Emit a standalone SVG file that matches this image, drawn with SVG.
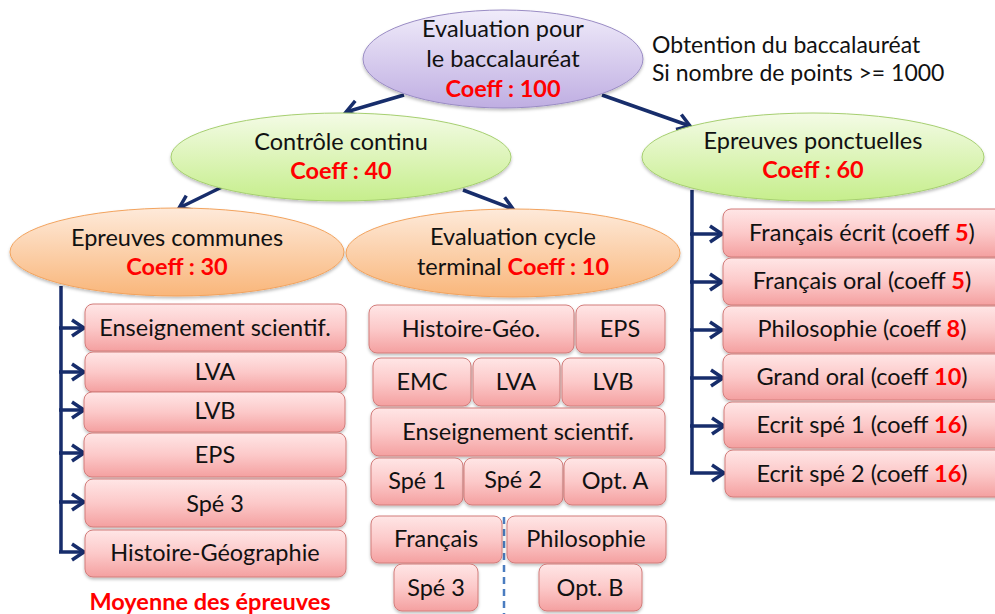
<svg xmlns="http://www.w3.org/2000/svg" width="995" height="614" viewBox="0 0 995 614">
<defs>
<linearGradient id="gPurple" x1="0" y1="0" x2="0" y2="1"><stop offset="0" stop-color="#f0ecfa"/><stop offset="1" stop-color="#bfaee2"/></linearGradient>
<linearGradient id="gGreen" x1="0" y1="0" x2="0" y2="1"><stop offset="0" stop-color="#f4fbe6"/><stop offset="1" stop-color="#c6ee8c"/></linearGradient>
<linearGradient id="gOrange" x1="0" y1="0" x2="0" y2="1"><stop offset="0" stop-color="#feeada"/><stop offset="1" stop-color="#f9b67a"/></linearGradient>
<linearGradient id="gPink" x1="0" y1="0" x2="0" y2="1"><stop offset="0" stop-color="#ffe6e6"/><stop offset="0.5" stop-color="#fcc9c9"/><stop offset="1" stop-color="#f4a0a0"/></linearGradient>
<filter id="sh" x="-10%" y="-10%" width="120%" height="130%"><feDropShadow dx="0" dy="2" stdDeviation="1.5" flood-color="#000" flood-opacity="0.25"/></filter>
<marker id="ah" markerUnits="userSpaceOnUse" markerWidth="20" markerHeight="20" viewBox="0 0 20 20" refX="16" refY="10" orient="auto"><path d="M4,2 L16,10 L4,18" fill="none" stroke="#172d6b" stroke-width="3.5" stroke-linejoin="miter"/></marker>
</defs>
<style>
text{font-family:Lato,"Open Sans","Liberation Sans",sans-serif;font-size:23.5px;fill:#111;text-anchor:middle}
.r{fill:#ff0000;font-weight:bold}
.note{text-anchor:start;font-size:23px}
.box{fill:url(#gPink);stroke:#d27c7a;stroke-width:1;filter:url(#sh)}
.ep{stroke-width:1;filter:url(#sh)}
.ln{fill:none;stroke:#172d6b;stroke-width:3.5}
</style>

<g id="connectors">
<line class="ln" x1="404" y1="95" x2="346" y2="112" marker-end="url(#ah)"/>
<line class="ln" x1="602" y1="95" x2="690" y2="126" marker-end="url(#ah)"/>
<line class="ln" x1="222" y1="187" x2="179" y2="208" marker-end="url(#ah)"/>
<line class="ln" x1="463" y1="190" x2="513" y2="209" marker-end="url(#ah)"/>
<polyline class="ln" points="61,286 61,552"/>
<line class="ln" x1="59" y1="328" x2="84" y2="328" marker-end="url(#ah)"/>
<line class="ln" x1="59" y1="372" x2="84" y2="372" marker-end="url(#ah)"/>
<line class="ln" x1="59" y1="410" x2="84" y2="410" marker-end="url(#ah)"/>
<line class="ln" x1="59" y1="453" x2="84" y2="453" marker-end="url(#ah)"/>
<line class="ln" x1="59" y1="502" x2="84" y2="502" marker-end="url(#ah)"/>
<line class="ln" x1="59" y1="552" x2="84" y2="552" marker-end="url(#ah)"/>
<polyline class="ln" points="692,190 692,473"/>
<line class="ln" x1="690" y1="234" x2="722" y2="234" marker-end="url(#ah)"/>
<line class="ln" x1="690" y1="282" x2="722" y2="282" marker-end="url(#ah)"/>
<line class="ln" x1="690" y1="330" x2="722" y2="330" marker-end="url(#ah)"/>
<line class="ln" x1="690" y1="378" x2="723" y2="378" marker-end="url(#ah)"/>
<line class="ln" x1="690" y1="426" x2="724" y2="426" marker-end="url(#ah)"/>
<line class="ln" x1="690" y1="473" x2="724" y2="473" marker-end="url(#ah)"/>
<line x1="504" y1="517" x2="504" y2="614" stroke="#4a7cc0" stroke-width="2.5" stroke-dasharray="7,5"/>
</g>

<g id="bac">
<ellipse class="ep" cx="503" cy="59" rx="140" ry="49" fill="url(#gPurple)" stroke="#9a8cc4"/>
<text x="503" y="37">Evaluation pour</text>
<text x="503" y="67">le baccalauréat</text>
<text x="503" y="97" class="r">Coeff : 100</text>
</g>
<g id="note">
<text x="652" y="53" class="note">Obtention du baccalauréat</text>
<text x="652" y="81" class="note">Si nombre de points &gt;= 1000</text>
</g>

<g id="controle">
<ellipse class="ep" cx="341" cy="157" rx="170" ry="44" fill="url(#gGreen)" stroke="#a6cf70"/>
<text x="341" y="150">Contrôle continu</text>
<text x="341" y="179" class="r">Coeff : 40</text>
</g>
<g id="ponctuelles">
<ellipse class="ep" cx="813" cy="157" rx="171" ry="44" fill="url(#gGreen)" stroke="#a6cf70"/>
<text x="813" y="149">Epreuves ponctuelles</text>
<text x="813" y="178" class="r">Coeff : 60</text>
</g>
<g id="communes">
<ellipse class="ep" cx="177" cy="252" rx="167" ry="44" fill="url(#gOrange)" stroke="#f2a35e"/>
<text x="177" y="246">Epreuves communes</text>
<text x="177" y="275" class="r">Coeff : 30</text>
</g>
<g id="cycle">
<ellipse class="ep" cx="513" cy="253" rx="167" ry="44" fill="url(#gOrange)" stroke="#f2a35e"/>
<text x="513" y="245">Evaluation cycle</text>
<text x="513" y="275">terminal <tspan class="r">Coeff : 10</tspan></text>
</g>

<g id="left-boxes">
<g id="l1"><rect class="box" x="85" y="304" width="261" height="47" rx="8"/><text x="215" y="336">Enseignement scientif.</text></g>
<g id="l2"><rect class="box" x="85" y="352" width="261" height="40" rx="8"/><text x="215" y="380">LVA</text></g>
<g id="l3"><rect class="box" x="84" y="392" width="261" height="40" rx="8"/><text x="215" y="419">LVB</text></g>
<g id="l4"><rect class="box" x="84" y="433" width="262" height="44" rx="8"/><text x="215" y="463">EPS</text></g>
<g id="l5"><rect class="box" x="85" y="479" width="261" height="48" rx="8"/><text x="215" y="512">Spé 3</text></g>
<g id="l6"><rect class="box" x="85" y="530" width="261" height="47" rx="8"/><text x="215" y="561">Histoire-Géographie</text></g>
<text x="210" y="610" class="r">Moyenne des épreuves</text>
</g>

<g id="mid-boxes">
<g id="m1"><rect class="box" x="369" y="305" width="205" height="48" rx="8"/><text x="471" y="337">Histoire-Géo.</text></g>
<g id="m2"><rect class="box" x="576" y="305" width="89" height="48" rx="8"/><text x="620" y="337">EPS</text></g>
<g id="m3"><rect class="box" x="373" y="358" width="98" height="48" rx="8"/><text x="422" y="390">EMC</text></g>
<g id="m4"><rect class="box" x="473" y="358" width="87" height="48" rx="8"/><text x="516" y="390">LVA</text></g>
<g id="m5"><rect class="box" x="562" y="358" width="102" height="48" rx="8"/><text x="613" y="390">LVB</text></g>
<g id="m6"><rect class="box" x="371" y="408" width="294" height="48" rx="8"/><text x="518" y="440">Enseignement scientif.</text></g>
<g id="m7"><rect class="box" x="371" y="458" width="92" height="47" rx="8"/><text x="417" y="489">Spé 1</text></g>
<g id="m8"><rect class="box" x="464" y="458" width="99" height="47" rx="8"/><text x="513" y="488">Spé 2</text></g>
<g id="m9"><rect class="box" x="564" y="458" width="102" height="47" rx="8"/><text x="615" y="489">Opt. A</text></g>
<g id="m10"><rect class="box" x="371" y="516" width="131" height="47" rx="8"/><text x="436" y="547">Français</text></g>
<g id="m11"><rect class="box" x="507" y="516" width="159" height="47" rx="8"/><text x="586" y="547">Philosophie</text></g>
<g id="m12"><rect class="box" x="394" y="564" width="84" height="47" rx="8"/><text x="436" y="596">Spé 3</text></g>
<g id="m13"><rect class="box" x="539" y="564" width="103" height="47" rx="8"/><text x="590" y="596">Opt. B</text></g>
</g>

<g id="right-boxes">
<g id="r1"><rect class="box" x="723" y="209" width="285" height="48" rx="8"/><text x="862" y="241">Français écrit (coeff <tspan class="r">5</tspan>)</text></g>
<g id="r2"><rect class="box" x="723" y="258" width="285" height="47" rx="8"/><text x="862" y="289">Français oral (coeff <tspan class="r">5</tspan>)</text></g>
<g id="r3"><rect class="box" x="723" y="306" width="285" height="47" rx="8"/><text x="862" y="337">Philosophie (coeff <tspan class="r">8</tspan>)</text></g>
<g id="r4"><rect class="box" x="723" y="354" width="285" height="46" rx="8"/><text x="862" y="385">Grand oral (coeff <tspan class="r">10</tspan>)</text></g>
<g id="r5"><rect class="box" x="724" y="402" width="285" height="46" rx="8"/><text x="862" y="433">Ecrit spé 1 (coeff <tspan class="r">16</tspan>)</text></g>
<g id="r6"><rect class="box" x="725" y="450" width="285" height="47" rx="8"/><text x="862" y="482">Ecrit spé 2 (coeff <tspan class="r">16</tspan>)</text></g>
</g>
</svg>
